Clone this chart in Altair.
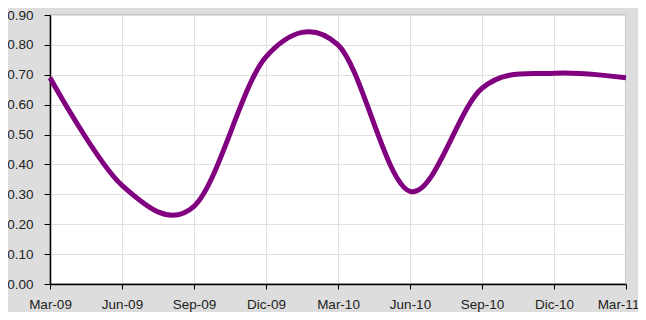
import altair as alt
import pandas as pd

quarters = ["Mar-09", "Jun-09", "Sep-09", "Dic-09", "Mar-10", "Jun-10", "Sep-10", "Dic-10", "Mar-11"]
values = [0.69, 0.33, 0.26, 0.76, 0.80, 0.31, 0.655, 0.705, 0.69]
y_ticks = [0.0, 0.1, 0.2, 0.3, 0.4, 0.5, 0.6, 0.7, 0.8, 0.9]

df = pd.DataFrame({"q": quarters, "v": values})

font = "Liberation Sans"

chart = alt.Chart(df).mark_line(
    interpolate="cardinal", color="#800080", strokeWidth=5
).encode(
    x=alt.X(
        "q:O",
        sort=quarters,
        scale=alt.Scale(type="point", padding=0),
        axis=alt.Axis(
            title=None, labelAngle=0, labelFont=font, labelFontSize=13.5,
            labelColor="#222222", tickColor="black", tickSize=5, labelPadding=8,
            domainColor="black", domainWidth=1.5, gridColor="#e0e0e0", grid=True,
            labelOverlap=False, labelFlush=False,
            labelOffset=alt.condition("datum.label == 'Mar-11'", alt.value(-8), alt.value(0)),
        ),
    ),
    y=alt.Y(
        "v:Q",
        scale=alt.Scale(domain=[0, 0.9], nice=False),
        axis=alt.Axis(
            title=None, values=y_ticks, format=".2f", labelFont=font, labelFontSize=13.5,
            labelColor="#222222", tickColor="black", tickSize=6, labelPadding=11,
            domainColor="black", domainWidth=1.5, gridColor="#e0e0e0", grid=True,
            labelOverlap=False, labelFlush=False,
        ),
    ),
).properties(
    width=576,
    height=269,
    autosize=alt.AutoSizeParams(type="none"),
    padding={"left": 42, "top": 7, "right": 12, "bottom": 28},
    background="#dddddd",
).configure_view(
    fill="white", stroke="#c4c4c4", strokeWidth=2
)

chart.save("out.html", embed_options={"renderer": "svg", "actions": False})
